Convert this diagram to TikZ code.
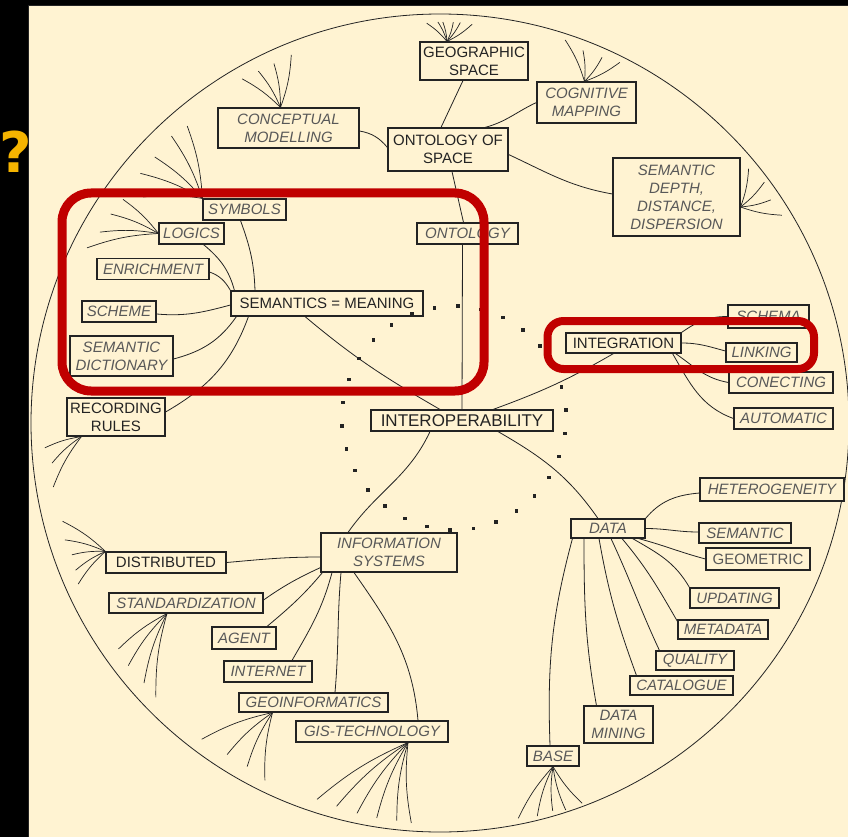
\documentclass[tikz,border=0pt]{standalone}
\usepackage{fontspec}
\setmainfont{Liberation Sans}
\newfontfamily\questfont{DejaVu Sans}
\definecolor{paper}{RGB}{255,243,210}
\definecolor{ink}{RGB}{35,35,35}
\definecolor{greyink}{RGB}{88,88,88}
\definecolor{frame}{RGB}{192,0,0}
\definecolor{quest}{RGB}{245,180,0}
\tikzset{
  lbl/.style = {draw=ink, fill=paper, line width=1.1pt, text=greyink, align=center,
    font=\itshape\fontsize{15}{18}\selectfont, inner xsep=2pt, inner ysep=2pt,
    minimum height=21pt},
  lblup/.style = {lbl, text=ink, font=\fontsize{15}{18}\selectfont},
  link/.style = {draw=ink, line width=0.8pt},
  fan/.style = {link, line width=0.7pt},
  hilite/.style = {draw=frame, line width=9pt, rounded corners=29pt}
}

\begin{document}
\begin{tikzpicture}[x=1pt,y=1pt]
  \useasboundingbox (0,0) rectangle (848,-837);
  % background
  \fill[black] (0,0) rectangle (848,-837);
  \fill[paper] (28,-5) rectangle (848,-837);
  \draw[ink,line width=0.8pt] (28,-837) |- (848,-5);
  \node[font=\questfont\bfseries\fontsize{56}{56}\selectfont, text=quest, inner sep=0pt]
    (quest) at (15.5,-151.5) {?};
  % circle
  \coordinate (o) at (440,-423);
  \draw[link] (o) circle (409);
  % nodes
  \node[lblup, minimum width=108, minimum height=38] (geo) at (474,-61) {GEOGRAPHIC\\SPACE};
  \node[lbl, minimum width=99, minimum height=41] (cog) at (586.5,-102.5) {COGNITIVE\\MAPPING};
  \node[lbl, minimum width=141, minimum height=40] (concept) at (288.5,-128) {CONCEPTUAL\\MODELLING};
  \node[lblup, minimum width=120, minimum height=43] (ontsp) at (448,-149.5) {ONTOLOGY OF\\SPACE};
  \node[lbl, minimum width=127, minimum height=78] (depth) at (676.5,-197) {SEMANTIC\\DEPTH,\\DISTANCE,\\DISPERSION};
  \node[lbl, minimum width=83] (symbols) at (244.5,-209.5) {SYMBOLS};
  \node[lbl, minimum width=65] (logics) at (191.5,-233.5) {LOGICS};
  \node[lbl, minimum width=101] (ontology) at (467.5,-233.5) {ONTOLOGY};
  \node[lbl, minimum width=112] (enrich) at (153,-269) {ENRICHMENT};
  \node[lblup, minimum width=192, minimum height=25] (meaning) at (327,-303.5) {SEMANTICS = MEANING};
  \node[lbl, minimum width=74] (scheme) at (119,-311.5) {SCHEME};
  \node[lbl, minimum width=103, minimum height=40] (dict) at (121.5,-356) {SEMANTIC\\DICTIONARY};
  \node[lblup, minimum width=98, minimum height=38] (rules) at (116,-417) {RECORDING\\RULES};
  \node[lblup, minimum width=115, minimum height=20] (integr) at (623.5,-343) {INTEGRATION};
  \node[lbl, minimum width=81, minimum height=23] (schema) at (768.5,-316.5) {SCHEMA};
  \node[lbl, minimum width=71, minimum height=19] (linking) at (761.5,-352.5) {LINKING};
  \node[lbl, minimum width=104] (conect) at (781,-382.5) {CONECTING};
  \node[lbl, minimum width=99] (auto) at (783.5,-418.5) {AUTOMATIC};
  \node[lblup, minimum width=182, font=\fontsize{17}{20}\selectfont] (interop) at (462,-420.5) {INTEROPERABILITY};
  \node[lbl, minimum width=136, minimum height=39] (infosys) at (389,-552.5) {INFORMATION\\SYSTEMS};
  \node[lblup, minimum width=120] (distrib) at (166,-562.5) {DISTRIBUTED};
  \node[lbl, minimum width=154, minimum height=20] (standard) at (186,-603) {STANDARDIZATION};
  \node[lbl, minimum width=64, minimum height=22] (agent) at (244,-638) {AGENT};
  \node[lbl, minimum width=88] (internet) at (268,-671.5) {INTERNET};
  \node[lbl, minimum width=149, minimum height=19] (geoinf) at (313.5,-702.5) {GEOINFORMATICS};
  \node[lbl, minimum width=152] (gistech) at (372,-731.5) {GIS-TECHNOLOGY};
  \node[lbl, minimum width=74, minimum height=19] (data) at (608,-528.5) {DATA};
  \node[lbl, minimum width=144, minimum height=23] (hetero) at (772,-489.5) {HETEROGENEITY};
  \node[lbl, minimum width=92, minimum height=20] (semantic) at (745,-533) {SEMANTIC};
  \node[lblup, text=greyink, minimum width=104, minimum height=22] (geometric) at (758,-559) {GEOMETRIC};
  \node[lbl, minimum width=89, minimum height=20] (updating) at (734.5,-598) {UPDATING};
  \node[lbl, minimum width=90, minimum height=19] (metadata) at (723,-629.5) {METADATA};
  \node[lbl, minimum width=78, minimum height=19] (quality) at (695,-660.5) {QUALITY};
  \node[lbl, minimum width=103, minimum height=19] (catalog) at (681.5,-685.5) {CATALOGUE};
  \node[lbl, minimum width=69, minimum height=37] (mining) at (618.5,-724.5) {DATA\\MINING};
  \node[lbl, minimum width=52, minimum height=20] (base) at (553,-756) {BASE};
  % ring of dots
  \coordinate (ring) at (454,-418);
  \foreach \a in {4,16,...,352}
    \fill[ink] ([shift={(\a:112)}]ring) ++(-1.8,-1.8) rectangle ++(3.6,3.6);
  % ontology of space
  \draw[link] ([xshift=-7]ontsp.north) -- ([xshift=-11]geo.south);
  \draw[link] ([xshift=37]ontsp.north) to[out=15,in=205] (cog.west);
  \draw[link] ([yshift=2]ontsp.west) to[out=130,in=-10] ([yshift=-3]concept.east);
  \draw[link] ([yshift=-5]ontsp.east) to[out=-25,in=170] ([yshift=3]depth.west);
  \draw[link] ([xshift=4]ontsp.south) -- ([xshift=-4]ontology.north);
  \draw[link] ([xshift=-5]ontology.south) -- (interop.north);
  % interoperability
  \draw[link] ([xshift=-22]interop.north) to[out=150,in=-40] ([xshift=-22]meaning.south);
  \draw[link] ([xshift=31]interop.north) to[out=20,in=210] ([xshift=-10]integr.south);
  \draw[link] ([xshift=-32]interop.south) to[out=-115,in=55] ([xshift=-41]infosys.north);
  \draw[link] ([xshift=36]interop.south) to[out=-30,in=125] ([xshift=-10]data.north);
  % semantics
  \draw[link] ([xshift=-4]symbols.south) to[out=-70,in=92] ([xshift=-72]meaning.north);
  \draw[link] ([xshift=12]logics.south) to[out=-40,in=105] ([xshift=4]meaning.north west);
  \draw[link] ([yshift=-3]enrich.east) to[out=-20,in=120] (meaning.north west);
  \draw[link] ([yshift=-2.5]scheme.east) to[out=-5,in=195] ([yshift=-1.5]meaning.west);
  \draw[link] ([yshift=-3]dict.east) to[out=15,in=-125] ([xshift=6]meaning.south west);
  \draw[link] ([yshift=5]rules.east) to[out=30,in=-110] ([xshift=18]meaning.south west);
  % information systems
  \draw[link] (distrib.east) to[out=5,in=180] ([yshift=-4.5]infosys.west);
  \draw[link] ([yshift=3]standard.east) to[out=35,in=205] ([yshift=5]infosys.south west);
  \draw[link] ([xshift=23]agent.north) to[out=40,in=-130] ([xshift=2]infosys.south west);
  \draw[link] ([xshift=24]internet.north) to[out=60,in=-105] ([xshift=-57]infosys.south);
  \draw[link] ([xshift=21.5]geoinf.north) to[out=85,in=-95] ([xshift=-48]infosys.south);
  \draw[link] ([xshift=46]gistech.north) to[out=95,in=-55] ([xshift=-35]infosys.south);
  % data
  \draw[link] (data.north east) to[out=50,in=185] ([yshift=-3.5]hetero.west);
  \draw[link] (data.east) to[out=0,in=180] ([yshift=1]semantic.west);
  \draw[link] ([xshift=-7]data.south east) to[out=-15,in=165] (geometric.west);
  \draw[link] ([xshift=-13]data.south east) to[out=-30,in=120] (updating.north west);
  \draw[link] ([xshift=14]data.south) to[out=-50,in=120] ([yshift=-2]metadata.north west);
  \draw[link] ([xshift=3]data.south) to[out=-65,in=115] ([xshift=4]quality.north west);
  \draw[link] ([xshift=-9]data.south) to[out=-80,in=110] ([xshift=7]catalog.north west);
  \draw[link] ([xshift=-24]data.south) to[out=-90,in=100] ([xshift=13]mining.north west);
  \draw[link] ([xshift=2]data.south west) to[out=-105,in=92] ([xshift=-3]base.north);
  % integration
  \draw[link] (integr.north east) to[out=35,in=180] (schema.west);
  \draw[link] (integr.east) to[out=0,in=165] ([yshift=1.5]linking.west);
  \draw[link] ([xshift=-6]integr.south east) to[out=-35,in=170] (conect.west);
  \draw[link] ([xshift=-9]integr.south east) to[out=-60,in=160] (auto.west);
  % fans out to the circle
  \foreach \a/\r in {91.9/400,90.3/401,89.6/401,88.1/401,87.1/401,85.4/400}
    \draw[fan] ([xshift=-27]geo.north) to[bend right=8] ([shift={(\a:\r)}]o);
  \foreach \a/\r in {71.9/403,69/399,66.1/400,63.5/403}
    \draw[fan] ([xshift=-2]cog.north) to[bend right=8] ([shift={(\a:\r)}]o);
  \foreach \a/\r in {119.9/397,117.3/396,114.8/396,112/397}
    \draw[fan] ([xshift=-8]concept.north) to[bend right=8] ([shift={(\a:\r)}]o);
  \foreach \a/\r in {39.5/400,36.6/404,34/399,31.3/400}
    \draw[fan] ([yshift=-10]depth.east) to[bend right=8] ([shift={(\a:\r)}]o);
  \foreach \a/\r in {142.7/373,140.2/390,137/390,133.1/393,130.4/390}
    \draw[fan] (symbols.north west) to[bend right=8] ([shift={(\a:\r)}]o);
  \foreach \a/\r in {144.8/388,147.6/390,150.7/390,153.6/394}
    \draw[fan] (logics.west) to[bend right=8] ([shift={(\a:\r)}]o);
  \foreach \a/\r in {-176.4/396,-174.1/390,-170.6/392}
    \draw[fan] ([xshift=15]rules.south west) to[bend right=8] ([shift={(\a:\r)}]o);
  \foreach \a/\r in {-165.4/390,-162.7/393,-160.3/391,-158/393,-156/396}
    \draw[fan] (distrib.north west) to[bend right=8] ([shift={(\a:\r)}]o);
  \foreach \a/\r in {-144.9/393,-142.1/395,-138.7/394,-136/395}
    \draw[fan] ([xshift=-19]standard.south) to[bend right=8] ([shift={(\a:\r)}]o);
  \foreach \a/\r in {-127/396,-122.7/394,-119.3/394,-116.1/398}
    \draw[fan] ([xshift=-41]geoinf.south) to[bend right=8] ([shift={(\a:\r)}]o);
  \foreach \a/\r in {-108.1/396,-105.1/397,-102/399,-99.1/400,-96.2/400,-94.1/401}
    \draw[fan] ([xshift=36]gistech.south) to[bend right=8] ([shift={(\a:\r)}]o);
  \foreach \a/\r in {-78.8/403,-76.1/405,-73.8/404,-72/407,-69.5/406}
    \draw[fan] (base.south) to[bend right=8] ([shift={(\a:\r)}]o);
  % highlight frames
  \draw[hilite] (62,-193) rectangle (484,-391);
  \draw[hilite, line width=8pt, rounded corners=16pt] (547.5,-321) rectangle (814,-369);
\end{tikzpicture}
\end{document}
